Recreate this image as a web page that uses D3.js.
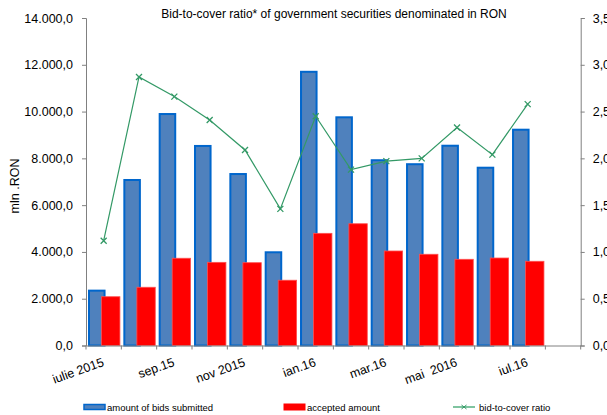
<!DOCTYPE html>
<html><head><meta charset="utf-8">
<script src="https://cdn.jsdelivr.net/npm/d3@7"></script>
<style>
body{margin:0;background:#fff;}
svg{display:block;font-family:"Liberation Sans",Arial,sans-serif;}
</style></head>
<body>
<svg id="c" width="607" height="415"></svg>
<script>
const months = ["iul15","aug15","sep15","oct15","nov15","dec15","ian16","feb16","mar16","apr16","mai16","iun16","iul16","aug16"];
const tickLabels = ["iulie 2015","","sep.15","","nov 2015","","ian.16","","mar.16","","mai  2016","","iul.16",""];
const bids = [2345,7075,9895,8530,7330,3985,11700,9755,7920,7750,8540,7600,9225];
const accepted = [2085,2490,3730,3555,3540,2790,4795,5205,4040,3900,3685,3740,3600];
const ratio = [1.12,2.87,2.66,2.41,2.09,1.46,2.45,1.88,1.97,2.0,2.33,2.04,2.58];
const leftTicks = [0,2000,4000,6000,8000,10000,12000,14000];
const rightTicks = [0,0.5,1,1.5,2,2.5,3,3.5];

const svg = d3.select("#c");
const L = 86, R = 580.7, T = 18, B = 345.5;
const x = d3.scaleBand().domain(months).range([L, R]).padding(0);
const y = d3.scaleLinear().domain([0, 14000]).range([B, T]);
const y2 = d3.scaleLinear().domain([0, 3.5]).range([B, T]);
const bw = x.bandwidth();
const fmtL = v => d3.format(",.1f")(v).replace(/,/g, "#").replace(/\./g, ",").replace(/#/g, ".");
const fmtR = v => d3.format(".2f")(v).replace(".", ",");

// bars
svg.append("g").selectAll("rect").data(bids).join("rect")
  .attr("x", (d,i) => x(months[i]) + bw*0.085)
  .attr("width", bw*0.44)
  .attr("y", d => y(d))
  .attr("height", d => B - y(d))
  .attr("fill", "#4f81bd").attr("stroke", "#0066cc").attr("stroke-width", 2);
svg.append("g").selectAll("rect").data(accepted).join("rect")
  .attr("x", (d,i) => x(months[i]) + bw*0.44)
  .attr("width", bw*0.52)
  .attr("y", d => y(d))
  .attr("height", d => B - y(d))
  .attr("fill", "#ff0000").attr("stroke", "#ff5050").attr("stroke-width", 0.8);

// axes
const gL = svg.append("g").attr("transform", `translate(${L},0)`)
  .call(d3.axisLeft(y).tickValues(leftTicks).tickFormat(fmtL).tickSize(4).tickPadding(9));
const gR = svg.append("g").attr("transform", `translate(${R},0)`)
  .call(d3.axisRight(y2).tickValues(rightTicks).tickFormat(fmtR).tickSize(4).tickPadding(8));
const gB = svg.append("g").attr("transform", `translate(0,${B})`)
  .call(d3.axisBottom(x).tickValues([]).tickSize(0));
// band boundary ticks
svg.append("g").selectAll("line").data(months.concat(["end"])).join("line")
  .attr("x1", (d,i) => L + i*bw).attr("x2", (d,i) => L + i*bw)
  .attr("y1", B).attr("y2", B+4).attr("stroke", "#808080");
[gL, gR, gB].forEach(g => {
  g.select(".domain").attr("stroke", "#808080");
  g.selectAll(".tick line").attr("stroke", "#808080");
  g.selectAll("text").attr("font-size", 12.5).attr("fill", "#000").attr("font-family", "Liberation Sans, Arial, sans-serif");
});

// x labels
svg.append("g").selectAll("text").data(tickLabels).join("text")
  .attr("transform", (d,i) => `translate(${x(months[i]) + bw/2 + 1},${B + 20}) rotate(-20)`)
  .attr("text-anchor", "end")
  .attr("font-size", 12.5)
  .attr("xml:space", "preserve")
  .style("white-space", "pre")
  .text(d => d);

// ratio line
const line = d3.line().x((d,i) => x(months[i]) + bw/2).y(d => y2(d));
svg.append("path").datum(ratio).attr("d", line)
  .attr("fill", "none").attr("stroke", "#339966").attr("stroke-width", 1.2);
const mk = svg.append("g").selectAll("g").data(ratio).join("g")
  .attr("transform", (d,i) => `translate(${x(months[i]) + bw/2},${y2(d)})`);
mk.append("path").attr("d", "M-3,-3L3,3M-3,3L3,-3")
  .attr("stroke", "#339966").attr("stroke-width", 1.3);

// title
svg.append("text").attr("x", 334).attr("y", 18).attr("text-anchor", "middle")
  .attr("font-size", 12).text("Bid-to-cover ratio* of government securities denominated in RON");
// y label
svg.append("text").attr("transform", "translate(19,186) rotate(-90)")
  .attr("text-anchor", "middle").attr("font-size", 12.5).text("mln .RON");

// legend
const lg = svg.append("g").attr("font-size", 9.5);
lg.append("rect").attr("x", 84).attr("y", 404.5).attr("width", 21).attr("height", 5)
  .attr("fill", "#4f81bd").attr("stroke", "#0066cc").attr("stroke-width", 1.5);
lg.append("text").attr("x", 107).attr("y", 410.5).text("amount of bids submitted");
lg.append("rect").attr("x", 283.5).attr("y", 403.5).attr("width", 22).attr("height", 7)
  .attr("fill", "#ff0000");
lg.append("text").attr("x", 307).attr("y", 410.5).text("accepted amount");
lg.append("line").attr("x1", 453).attr("x2", 475).attr("y1", 407).attr("y2", 407)
  .attr("stroke", "#7fc4a0").attr("stroke-width", 2);
lg.append("path").attr("d", "M461.5,405L466.5,409M461.5,409L466.5,405").attr("stroke", "#339966");
lg.append("text").attr("x", 479).attr("y", 410.5).text("bid-to-cover ratio");
</script>
</body></html>
